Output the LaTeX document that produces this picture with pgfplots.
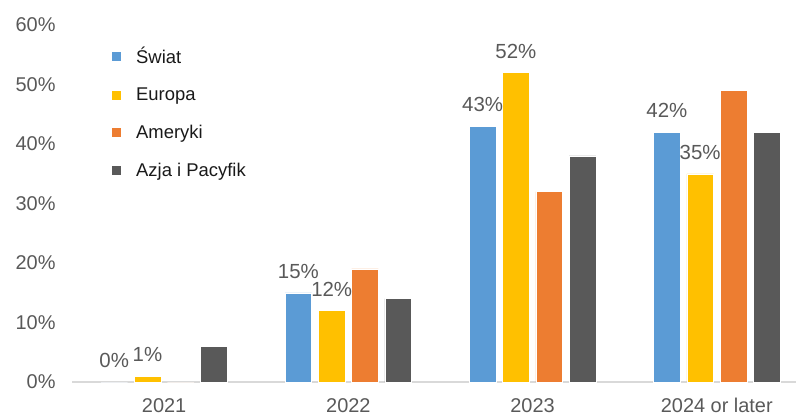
\documentclass[border=0pt]{standalone}
\usepackage{fontspec}
\setmainfont{Liberation Sans}
\usepackage{pgfplots}
\pgfplotsset{compat=1.18}
\definecolor{cSw}{HTML}{5B9BD5}
\definecolor{cEu}{HTML}{FFC000}
\definecolor{cAm}{HTML}{ED7D31}
\definecolor{cAz}{HTML}{595959}
\definecolor{txt}{HTML}{595959}
\definecolor{axl}{HTML}{D9D9D9}
\pgfplotsset{
  sqlegend/.style={legend image code/.code={\fill[##1] (0bp,-5bp) rectangle (10bp,5bp); \path (23bp,0bp);}},
  barlabels/.style={nodes near coords={\pgfmathprintnumber{\pgfplotspointmeta}\%},
    every node near coord/.append style={font=\fontsize{20.5}{23}\selectfont, text=txt, anchor=south, inner sep=0pt, yshift=14bp}},
}
\begin{document}
\begin{tikzpicture}[x=1bp,y=1bp]
\useasboundingbox (0,0) rectangle (796,417);
\begin{axis}[
  at={(72bp,35bp)}, anchor=south west,
  width=724bp, height=357bp, scale only axis,
  xmin=-0.5, xmax=3.43, ymin=0, ymax=60,
  ybar=6.6bp, bar width=26.7bp,
  axis x line=bottom, axis y line=left,
  x axis line style={draw=axl, line width=1.2bp, -},
  y axis line style={draw=none},
  major tick length=0pt,
  xtick={0,1,2,3}, xticklabels={2021,2022,2023,2024 or later},
  ytick={0,10,20,30,40,50,60},
  yticklabel={\pgfmathprintnumber{\tick}\%},
  /pgf/number format/assume math mode=true,
  ticklabel style={font=\fontsize{20}{22}\selectfont, text=txt},
  xticklabel style={yshift=-13bp},
  yticklabel style={xshift=-13bp},
  sqlegend,
  legend style={at={(rel axis cs:0.049,0.95)}, anchor=north west, draw=none, fill=none,
    font=\fontsize{18.5}{20}\selectfont, text=black!90, row sep=19bp},
  legend cell align=left,
  every axis plot/.append style={draw=white, line width=0.5bp},
]
\addplot[fill=cSw, barlabels] coordinates {(0,0) (1,15) (2,43) (3,42)};
\addplot[fill=cEu, barlabels] coordinates {(0,1) (1,12) (2,52) (3,35)};
\addplot[fill=cAm] coordinates {(0,0) (1,19) (2,32) (3,49)};
\addplot[fill=cAz] coordinates {(0,6) (1,14) (2,38) (3,42)};
\legend{Świat, Europa, Ameryki, Azja i Pacyfik}
\end{axis}
\end{tikzpicture}
\end{document}
